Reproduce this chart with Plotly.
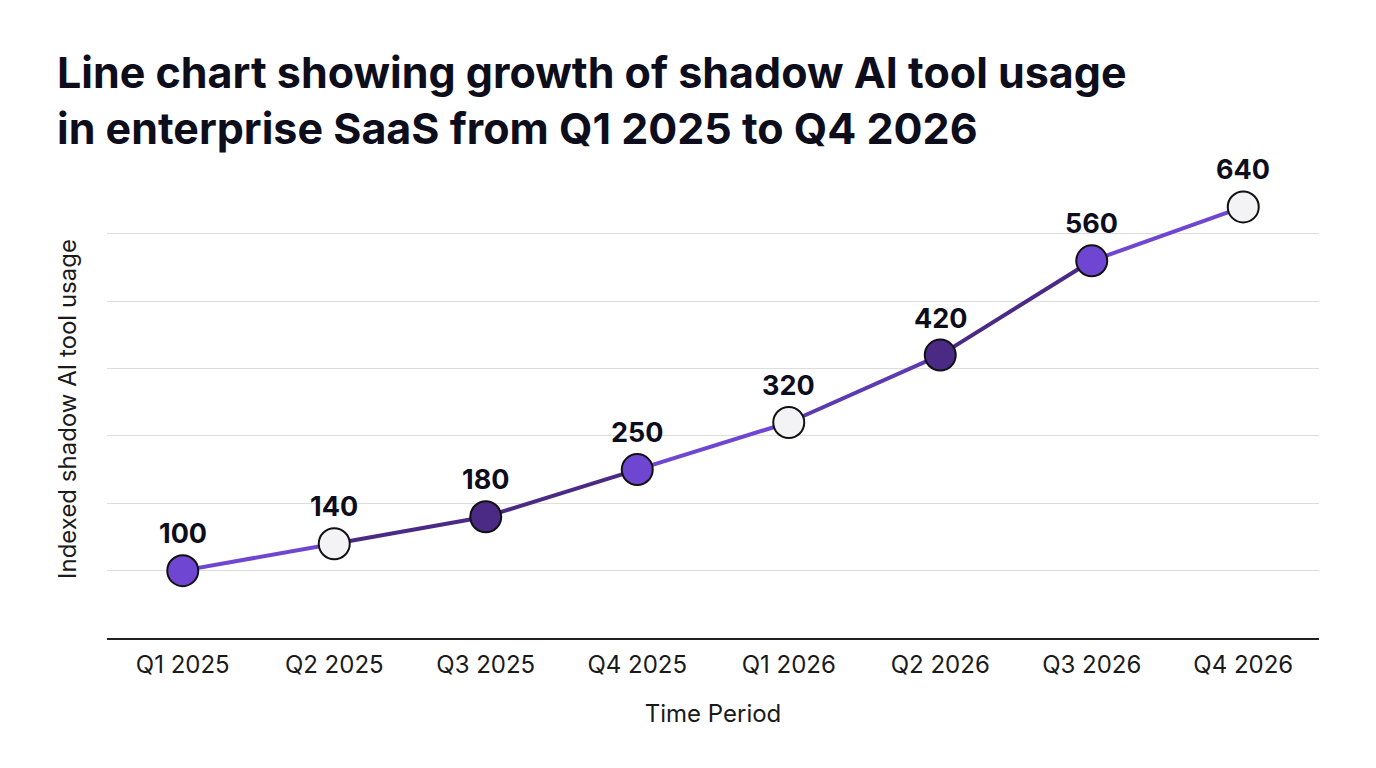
import plotly.graph_objects as go

quarters = ["Q1 2025", "Q2 2025", "Q3 2025", "Q4 2025", "Q1 2026", "Q2 2026", "Q3 2026", "Q4 2026"]
usage = [100, 140, 180, 250, 320, 420, 560, 640]

PURPLE = "#6f46d1"
WHITE = "#f3f3f6"
DARK = "#4b2a86"
MED = "#5c3bb0"
marker_colors = [PURPLE, WHITE, DARK, PURPLE, WHITE, DARK, PURPLE, WHITE]
segment_colors = [PURPLE, DARK, DARK, PURPLE, MED, DARK, PURPLE]

FONT = "Inter, Roboto, sans-serif"
TXT = "#0d0d1c"

fig = go.Figure()

for i in range(len(quarters) - 1):
    fig.add_trace(go.Scatter(
        x=quarters[i:i + 2], y=usage[i:i + 2], mode="lines",
        line=dict(color=segment_colors[i], width=4),
        hoverinfo="skip", showlegend=False,
    ))

fig.add_trace(go.Scatter(
    x=quarters, y=usage, mode="markers",
    marker=dict(size=31, color=marker_colors, line=dict(color="#111111", width=2)),
    showlegend=False,
))

for q, v in zip(quarters, usage):
    fig.add_annotation(x=q, y=v, text=f"<b>{v}</b>", showarrow=False,
                       yshift=37, font=dict(family=FONT, size=27, color=TXT))

fig.update_layout(
    width=1376, height=768,
    paper_bgcolor="white", plot_bgcolor="white",
    margin=dict(l=107, r=57, t=180, b=130),
    title=dict(
        text="<b>Line chart showing growth of shadow AI tool usage<br>in enterprise SaaS from Q1 2025 to Q4 2026</b>",
        x=57 / 1376, xref="container", xanchor="left",
        y=1 - 88 / 768, yref="container", yanchor="top",
        font=dict(family=FONT, size=43, color=TXT),
    ),
    font=dict(family=FONT, color=TXT),
    xaxis=dict(
        type="category", range=[-0.5, 7.5],
        showgrid=False, showline=True, linecolor="#222222", linewidth=1.5,
        ticks="", tickfont=dict(size=24, color="#1a1a1a"), ticklabelstandoff=4,
        title=dict(text="Time Period", font=dict(size=24, color="#1a1a1a"), standoff=28),
        zeroline=False,
    ),
    yaxis=dict(
        range=[0, 680], tickvals=[100, 200, 300, 400, 500, 600],
        showticklabels=False, ticks="",
        showgrid=True, gridcolor="#dddddd", gridwidth=1,
        zeroline=False, showline=False,
        title=dict(text="Indexed shadow AI tool usage", font=dict(size=24, color="#1a1a1a"), standoff=22),
    ),
)

fig.write_html("out.html")
